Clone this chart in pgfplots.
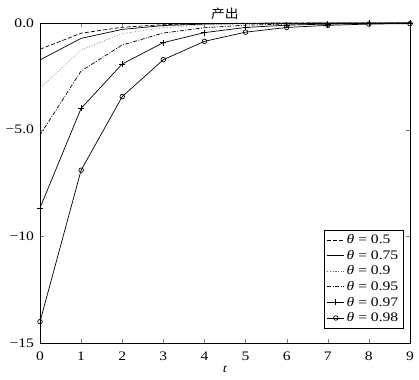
\documentclass[border=0pt]{standalone}
\usepackage{pgfplots}
\pgfplotsset{compat=1.18}
\usepackage{fontspec}
\setmainfont{Liberation Serif}[FakeStretch=1.2]
\newfontfamily\cjk{Noto Sans CJK SC}[FakeStretch=1.1]
\begin{document}
\begin{tikzpicture}
\begin{axis}[
  scale only axis, width=370pt, height=320pt,
  xmin=0, xmax=9, ymin=-15, ymax=0,
  xtick={0,...,9}, ytick={-15,-10,-5,0},
  yticklabels={−15,−10,−5.0,0.0},
  xtick pos=both, ytick pos=both, tick align=inside,
  major tick length=4pt,
  /pgf/number format/assume math mode=true,
  tick label style={font=\fontsize{13}{15}\selectfont},
  yticklabel style={xshift=-2.5pt},
  xticklabel style={yshift=-5pt},
  title={\cjk 产出}, title style={font=\fontsize{12.5}{15}\selectfont, yshift=-6pt},
  xlabel={\textit{t}}, xlabel style={font=\fontsize{12}{14}\selectfont, yshift=1pt},
  axis line style={line width=0.6pt},
  every axis plot/.append style={line width=0.7pt, black},
  legend style={at={(axis description cs:0.981,0.047)}, anchor=south east, draw=black,
    font=\fontsize{13}{15}\selectfont, row sep=1pt, inner sep=2.5pt},
  legend cell align=left,
]
\addplot[dashed, dash pattern=on 4pt off 2pt] coordinates {(0,-1.23) (1,-0.48) (2,-0.2) (3,-0.08) (4,-0.03) (5,-0.01) (6,0) (7,0) (8,0) (9,0)};
\addlegendentry{\textit{θ} = 0.5}
\addplot[solid] coordinates {(0,-1.73) (1,-0.72) (2,-0.3) (3,-0.12) (4,-0.05) (5,-0.02) (6,-0.01) (7,0) (8,0) (9,0)};
\addlegendentry{\textit{θ} = 0.75}
\addplot[dotted, gray!80!black] coordinates {(0,-3.05) (1,-1.27) (2,-0.5) (3,-0.22) (4,-0.09) (5,-0.04) (6,-0.015) (7,-0.006) (8,0) (9,0)};
\addlegendentry{\textit{θ} = 0.9}
\addplot[dash pattern=on 4pt off 1.5pt on 1pt off 1.5pt] coordinates {(0,-5.25) (1,-2.25) (2,-1.03) (3,-0.47) (4,-0.22) (5,-0.1) (6,-0.05) (7,-0.02) (8,-0.01) (9,0)};
\addlegendentry{\textit{θ} = 0.95}
\addplot[solid, mark=+, mark size=3pt] coordinates {(0,-8.67) (1,-4.0) (2,-1.92) (3,-0.92) (4,-0.45) (5,-0.21) (6,-0.1) (7,-0.05) (8,-0.02) (9,-0.01)};
\addlegendentry{\textit{θ} = 0.97}
\addplot[solid, mark=o, mark size=2.3pt, mark options={solid}] coordinates {(0,-14.0) (1,-6.9) (2,-3.45) (3,-1.72) (4,-0.86) (5,-0.43) (6,-0.21) (7,-0.11) (8,-0.05) (9,-0.03)};
\addlegendentry{\textit{θ} = 0.98}
\end{axis}
\path ([shift={(-40pt,-36pt)}]current axis.south west) rectangle ([shift={(9pt,23pt)}]current axis.north east);
\end{tikzpicture}
\end{document}
